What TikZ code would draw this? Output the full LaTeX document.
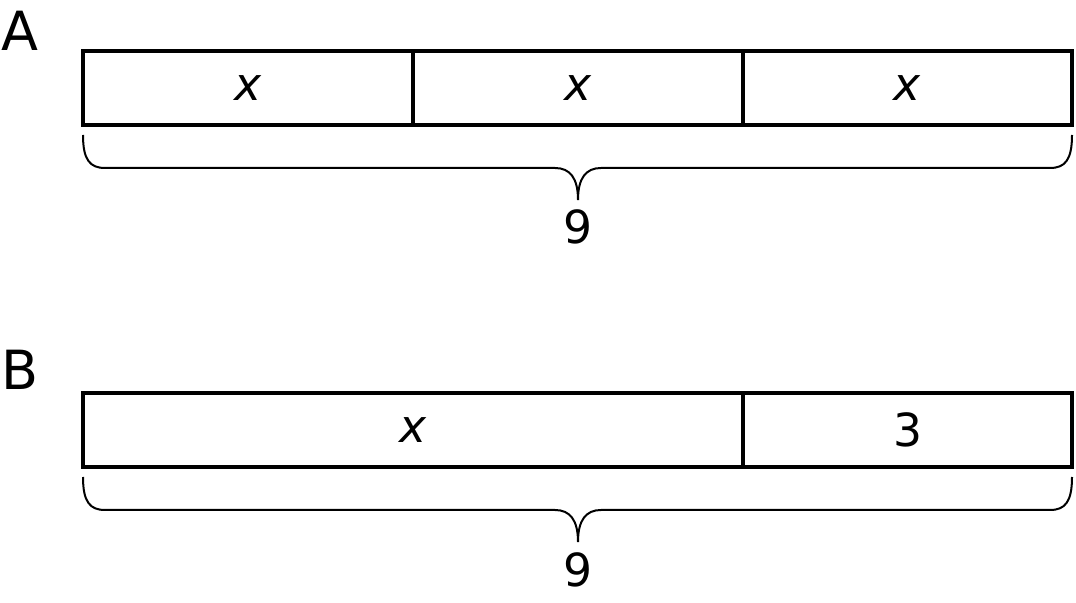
\documentclass[tikz,border=0pt]{standalone}
\usepackage{fontspec}
\setmainfont{DejaVu Sans}
\tikzset{
  cell/.style={draw, line width=2pt, rectangle, inner sep=0pt,
    minimum height=37pt, font=\fontsize{22.8}{27}\selectfont},
  brace/.style={line width=1pt},
  sumlbl/.style={font=\fontsize{22.8}{27}\selectfont, inner sep=0pt},
  lbl/.style={font=\fontsize{27}{32}\selectfont, inner sep=0pt}
}
\begin{document}
\begin{tikzpicture}[x=0.5pt, y=-0.5pt]
    \useasboundingbox (0,0) rectangle (1076,603);

    % Diagram A
    \node[lbl] (labA) at (20,30.5) {A};
    \node[cell, minimum width=165pt] (a1) at (248,88) {\textit{x}};
    \node[cell, minimum width=165pt] (a2) at (578,88) {\textit{x}};
    \node[cell, minimum width=164.5pt] (a3) at (907.5,88) {\textit{x}};

    % Brace A
    \draw[brace] (83,135) .. controls (83,160) and (90,168) .. (105,168)
        -- (555,168) .. controls (570,168) and (578,178) .. (578,200)
        .. controls (578,178) and (586,168) .. (601,168)
        -- (1050,168) .. controls (1065,168) and (1072,160) .. (1072,135);
    \node[sumlbl] (sumA) at (578,227) {9};

    % Diagram B
    \node[lbl] (labB) at (20,370) {B};
    \node[cell, minimum width=330pt] (b1) at (413,430) {\textit{x}};
    \node[cell, minimum width=164.5pt] (b2) at (907.5,430) {3};

    % Brace B
    \draw[brace] (83,477) .. controls (83,502) and (90,510) .. (105,510)
        -- (555,510) .. controls (570,510) and (578,520) .. (578,542)
        .. controls (578,520) and (586,510) .. (601,510)
        -- (1050,510) .. controls (1065,510) and (1072,502) .. (1072,477);
    \node[sumlbl] (sumB) at (578,570) {9};
\end{tikzpicture}
\end{document}
